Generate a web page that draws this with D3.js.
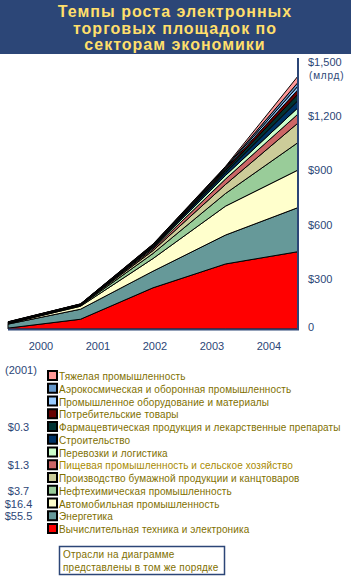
<!DOCTYPE html>
<html>
<head>
<meta charset="utf-8">
<script src="https://cdn.jsdelivr.net/npm/d3@7"></script>
<style>
  body { margin: 0; background: #fff; }
  svg { display: block; font-family: "Liberation Sans", Arial, sans-serif; }
</style>
</head>
<body>
<script>
// Data (billions of $), bottom layer first
const years = ["2000", "2001", "2002", "2003", "2004"];
const sectors = [
  "Вычислительная техника и электроника",
  "Энергетика",
  "Автомобильная промышленность",
  "Нефтехимическая промышленность",
  "Производство бумажной продукции и канцтоваров",
  "Пищевая промышленность и сельское хозяйство",
  "Перевозки и логистика",
  "Строительство",
  "Фармацевтическая продукция и лекарственные препараты",
  "Потребительские товары",
  "Промышленное оборудование и материалы",
  "Аэрокосмическая и оборонная промышленность",
  "Тяжелая промышленность"
];
const colors = ["#ff0000", "#669999", "#ffffcc", "#99cc99", "#cccc99", "#cc6666",
  "#ccffcc", "#003366", "#003333", "#660000", "#99ccff", "#6699cc", "#ff9999"];
const values = [
  [5, 54, 228, 360, 428],
  [22, 55.5, 92, 160, 244],
  [3, 16.4, 70, 160, 208],
  [1, 3.7, 28, 70, 152],
  [1, 2, 16, 50, 108],
  [1, 1.3, 9, 30, 50],
  [1, 1, 7, 20, 35],
  [1, 1, 5, 15, 40],
  [1, 0.3, 4, 12, 35],
  [1, 1, 3, 8, 25],
  [1, 1, 3, 6, 20],
  [1, 1, 3, 5, 20],
  [1, 1, 2, 4, 35]
];
const yTicks = [0, 300, 600, 900, 1200, 1500];
const values2001 = { 8: "$0.3", 5: "$1.3", 3: "$3.7", 2: "$16.4", 1: "$55.5" };
const titleLines = ["Темпы роста электронных", "торговых площадок по", "секторам экономики"];
const noteLines = ["Отрасли на диаграмме", "представлены в том же порядке"];

const width = 351, height = 581;
const navy = "#2c4677", olive = "#7f7000";

const svg = d3.select("body").append("svg")
  .attr("width", width)
  .attr("height", height);

// Title band
svg.append("rect").attr("x", 0).attr("y", 0).attr("width", width).attr("height", 54).attr("fill", navy);
svg.append("g").selectAll("text")
  .data(titleLines)
  .enter().append("text")
  .attr("x", 175)
  .attr("y", (d, i) => 17 + i * 16.5)
  .attr("text-anchor", "middle")
  .attr("font-size", 16)
  .attr("font-weight", "bold")
  .attr("letter-spacing", 1)
  .attr("fill", "#ffdf6b")
  .text(d => d);

// Scales
const x = d3.scalePoint().domain(years).range([8, 298]);
const xLabel = d3.scalePoint().domain(years).range([41, 269]);
const y = d3.scaleLinear().domain([0, 1500]).range([329, 58]);

// Stack
const rows = years.map((yr, j) => {
  const r = { year: yr };
  sectors.forEach((s, i) => r[s] = values[i][j]);
  return r;
});
const series = d3.stack().keys(sectors)(rows);

const area = d3.area()
  .x(d => x(d.data.year))
  .y0(d => y(d[0]))
  .y1(d => y(d[1]));

svg.append("g")
  .selectAll("path")
  .data(series)
  .enter().append("path")
  .attr("d", area)
  .attr("fill", (d, i) => colors[i])
  .attr("stroke", "#000")
  .attr("stroke-width", 1)
  .attr("stroke-linejoin", "miter");

// Axes lines
svg.append("line").attr("x1", 298).attr("x2", 298).attr("y1", y(1500)).attr("y2", y(0) + 1)
  .attr("stroke", navy).attr("stroke-width", 2);
svg.append("line").attr("x1", 8).attr("x2", 299).attr("y1", y(0) + 0.5).attr("y2", y(0) + 0.5)
  .attr("stroke", navy).attr("stroke-width", 2);

// Y tick labels
svg.append("g").selectAll("text")
  .data(yTicks)
  .enter().append("text")
  .attr("x", 308)
  .attr("y", d => y(d) + (d === 0 ? 2 : 8))
  .attr("font-size", 11)
  .attr("fill", navy)
  .text(d => d === 0 ? "0" : "$" + d3.format(",")(d));
svg.append("text")
  .attr("x", 309).attr("y", y(1500) + 21)
  .attr("font-size", 10).attr("letter-spacing", 0.8)
  .attr("fill", navy)
  .text("(млрд)");

// X labels
svg.append("g").selectAll("text")
  .data(years)
  .enter().append("text")
  .attr("x", d => xLabel(d))
  .attr("y", 350)
  .attr("text-anchor", "middle")
  .attr("font-size", 11)
  .attr("fill", navy)
  .text(d => d);

// Legend (top layer first)
const legendTop = 376, rowH = 12.75;
svg.append("text").attr("x", 5).attr("y", 374).attr("font-size", 11).attr("fill", navy).text("(2001)");

const legend = svg.append("g").selectAll("g")
  .data(d3.range(sectors.length - 1, -1, -1))
  .enter().append("g")
  .attr("transform", (d, k) => `translate(0,${legendTop + k * rowH})`);

legend.append("rect")
  .attr("x", 48).attr("y", -5).attr("width", 9).attr("height", 9)
  .attr("fill", d => colors[d])
  .attr("stroke", "#000").attr("stroke-width", 2);

legend.append("text")
  .attr("x", 59).attr("y", 4)
  .attr("font-size", 10)
  .attr("letter-spacing", 0.12)
  .attr("fill", d => d === 5 ? "#a88a00" : olive)
  .text(d => sectors[d]);

legend.append("text")
  .attr("x", 18.5).attr("y", 4)
  .attr("text-anchor", "middle")
  .attr("font-size", 11)
  .attr("fill", navy)
  .text(d => values2001[d] || "");

// Note box
svg.append("rect").attr("x", 59.5).attr("y", 546.5).attr("width", 165).attr("height", 28)
  .attr("fill", "none").attr("stroke", navy).attr("stroke-width", 1.5);
svg.append("g").selectAll("text")
  .data(noteLines)
  .enter().append("text")
  .attr("x", 63).attr("y", (d, i) => 558 + i * 12.5)
  .attr("font-size", 10).attr("letter-spacing", 0.2)
  .attr("fill", olive)
  .text(d => d);
</script>
</body>
</html>
